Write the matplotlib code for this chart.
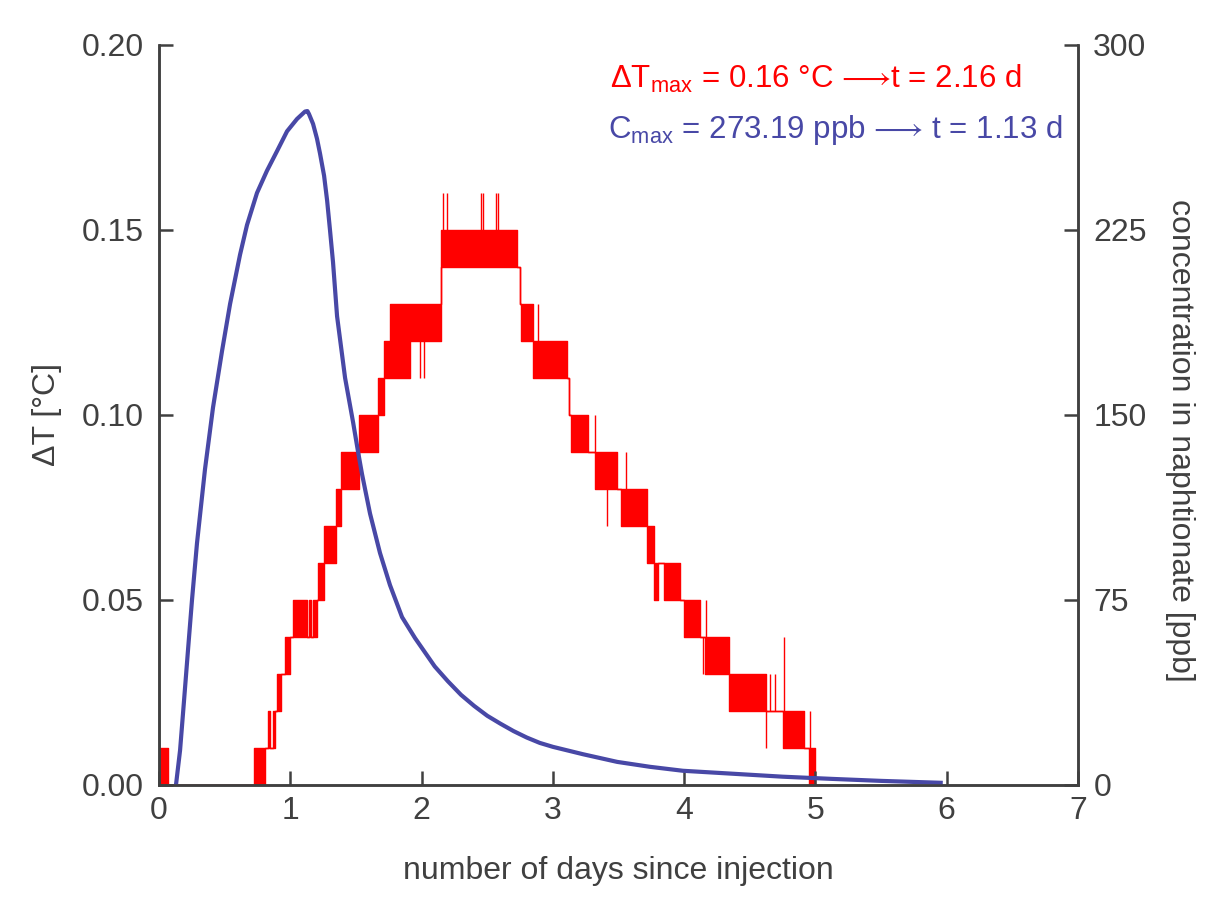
import matplotlib
matplotlib.use("Agg")
import matplotlib.pyplot as plt
import numpy as np

plt.rcParams['font.family'] = ['Liberation Sans', 'DejaVu Sans']
plt.rcParams['mathtext.fontset'] = 'custom'
plt.rcParams['mathtext.rm'] = 'Liberation Sans'
plt.rcParams['mathtext.fallback'] = 'stixsans'

# --- temperature signal (quantised to 0.01 °C, flickers between two levels) ---
# segment boundaries [d] and the lower / upper level reached in each segment
red_t = [0.00, 0.07, 0.72, 0.81, 0.83, 0.845, 0.865, 0.885, 0.90, 0.93, 0.96,
         1.00, 1.02, 1.13, 1.145, 1.155, 1.17, 1.20, 1.21, 1.26, 1.35, 1.385,
         1.525, 1.665, 1.71, 1.76, 1.91, 2.145, 2.73, 2.75, 2.76, 2.85, 3.11,
         3.125, 3.135, 3.27, 3.32, 3.49, 3.52, 3.72, 3.77, 3.80, 3.85, 3.97,
         4.00, 4.12, 4.155, 4.34, 4.62, 4.75, 4.91, 4.95, 5.00, 5.05]
red_lo = [0.00, 0.00, 0.00, 0.01, 0.01, 0.01, 0.01, 0.02, 0.02, 0.03, 0.03,
          0.04, 0.04, 0.04, 0.04, 0.04, 0.04, 0.05, 0.05, 0.06, 0.07, 0.08,
          0.09, 0.10, 0.11, 0.11, 0.12, 0.14, 0.14, 0.13, 0.12, 0.11, 0.11,
          0.10, 0.09, 0.09, 0.08, 0.08, 0.07, 0.06, 0.05, 0.06, 0.05, 0.05,
          0.04, 0.04, 0.03, 0.02, 0.02, 0.01, 0.01, 0.00, 0.00]
red_hi = [0.01, 0.00, 0.01, 0.01, 0.02, 0.01, 0.02, 0.02, 0.03, 0.03, 0.04,
          0.04, 0.05, 0.04, 0.05, 0.04, 0.05, 0.05, 0.06, 0.07, 0.08, 0.09,
          0.10, 0.11, 0.12, 0.13, 0.13, 0.15, 0.14, 0.13, 0.13, 0.12, 0.11,
          0.10, 0.10, 0.09, 0.09, 0.08, 0.08, 0.07, 0.06, 0.06, 0.06, 0.05,
          0.05, 0.04, 0.04, 0.03, 0.02, 0.02, 0.01, 0.01, 0.00]

# single outlier readings
spike_t = [1.99, 2.015, 2.16, 2.19, 2.45, 2.465, 2.57, 2.585, 2.89, 3.32,
           3.41, 3.56, 4.14, 4.166, 4.62, 4.655, 4.69, 4.76, 4.96]
spike_lo = [0.11, 0.11, 0.15, 0.15, 0.15, 0.15, 0.15, 0.15, 0.12, 0.09,
            0.07, 0.08, 0.03, 0.04, 0.01, 0.02, 0.02, 0.02, 0.01]
spike_hi = [0.12, 0.12, 0.16, 0.16, 0.16, 0.16, 0.16, 0.16, 0.13, 0.10,
            0.08, 0.09, 0.04, 0.05, 0.02, 0.03, 0.03, 0.04, 0.02]

# --- tracer concentration ---
blue_t = [0.129, 0.160, 0.190, 0.221, 0.251, 0.289, 0.350, 0.411, 0.480, 0.541,
          0.617, 0.670, 0.746, 0.822, 0.899, 0.975, 1.051, 1.112, 1.13, 1.142,
          1.173, 1.203, 1.226, 1.257, 1.280, 1.302, 1.325, 1.356, 1.417, 1.478,
          1.516, 1.546, 1.607, 1.683, 1.759, 1.851, 1.950, 2.10, 2.20, 2.30,
          2.40, 2.50, 2.60, 2.70, 2.80, 2.90, 3.00, 3.23, 3.49, 3.74, 3.99,
          4.37, 4.75, 5.13, 5.50, 5.97]
blue_c = [0.0, 14, 34, 55, 75, 98, 128, 153, 176, 195,
          215, 227, 240, 249, 257, 265, 270, 273, 273.2, 272,
          268, 262, 256, 247, 237, 225, 212, 190, 165, 147,
          135, 126, 110, 94, 81, 68, 59.5, 48, 42, 36.5,
          32, 28, 24.8, 21.8, 19.2, 17.0, 15.4, 12.4, 9.3, 7.3, 5.7,
          4.5, 3.3, 2.4, 1.6, 0.8]

x_ticks = [0, 1, 2, 3, 4, 5, 6, 7]
left_ticks = [0.00, 0.05, 0.10, 0.15, 0.20]
right_ticks = [0, 75, 150, 225, 300]

red = '#ff0000'
blue = '#4848a6'
grey = '#404040'
fs = 23

fig = plt.figure(figsize=(12.05, 8.99), dpi=100)
ax = fig.add_axes([0.132, 0.127, 0.7626, 0.823])
ax2 = ax.twinx()

# temperature: flicker bands as a stepped band, outliers as vertical strokes
lo = red_lo + [red_lo[-1]]
hi = red_hi + [red_hi[-1]]
ax.fill_between(red_t, lo, hi, step='post', facecolor=red, edgecolor=red,
                linewidth=1.0)
ax.vlines(spike_t, spike_lo, spike_hi, color=red, linewidth=1.0)

ax2.plot(blue_t, blue_c, color=blue, linewidth=3.0, solid_capstyle='butt')

ax.set_xlim(0, 7)
ax.set_ylim(0, 0.20)
ax2.set_ylim(0, 300)
ax.set_xticks(x_ticks)
ax.set_yticks(left_ticks)
ax.set_yticklabels([f'{v:.2f}' for v in left_ticks])
ax2.set_yticks(right_ticks)

for a in (ax, ax2):
    a.spines['top'].set_visible(False)
    for s in ('left', 'right', 'bottom'):
        a.spines[s].set_color(grey)
        a.spines[s].set_linewidth(1.8)
    a.tick_params(direction='in', length=10, width=1.8, color=grey,
                  labelcolor=grey, labelsize=fs)
ax.tick_params(axis='y', pad=11)
ax.tick_params(axis='x', pad=8)
ax2.tick_params(axis='y', pad=11)

ax.set_xlabel('number of days since injection', fontsize=fs, color=grey,
              labelpad=22)
ax.set_ylabel('ΔT [°C]', fontsize=fs, color=grey, labelpad=14)
ax2.set_ylabel('concentration in naphtionate [ppb]', fontsize=fs, color=grey,
               rotation=270, va='center')
ax2.yaxis.set_label_coords(1.111, 0.466)

ax.text(0.491, 0.942,
        'ΔT$_{\\mathregular{max}}$ = 0.16 °C $⟶$t = 2.16 d',
        transform=ax.transAxes, color=red, fontsize=22.5, va='baseline',
        ha='left')
ax.text(0.489, 0.874,
        'C$_{\\mathregular{max}}$ = 273.19 ppb $⟶$ t = 1.13 d',
        transform=ax.transAxes, color=blue, fontsize=22.5, va='baseline',
        ha='left')

fig.savefig('out.png', dpi=100)
